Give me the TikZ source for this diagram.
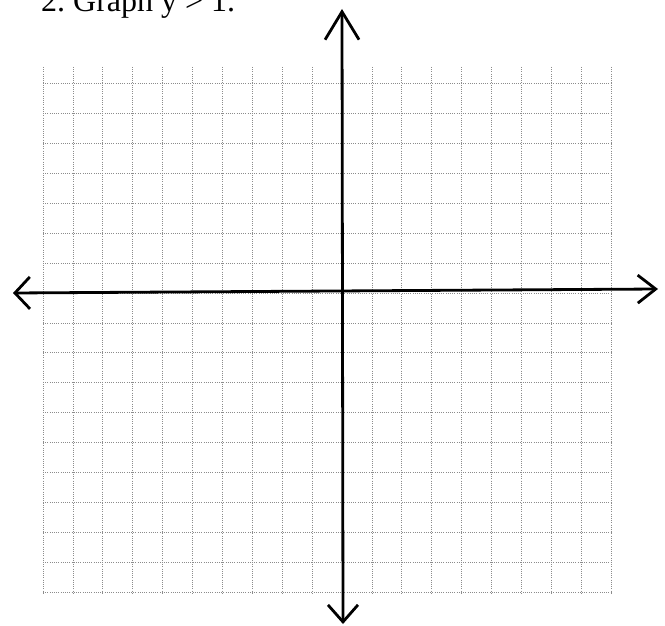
\documentclass[tikz,border=0pt]{standalone}
\usepackage{fontspec}
\setmainfont{Liberation Serif}
\usetikzlibrary{arrows.meta}
\tikzset{
  gridline/.style={black!45, line width=0.7pt, dash pattern=on 0.9pt off 1.3pt},
  axisline/.style={line width=2.8pt, line cap=round, line join=round},
}
\begin{document}
\begin{tikzpicture}[x=1pt,y=-1pt]
  \useasboundingbox (0,0) rectangle (665,626);
  % draw vertical grid lines
  \foreach \i in {0,...,19}
    \draw[gridline] (43+29.9*\i,67) -- (43+29.9*\i,593);
  % draw horizontal grid lines
  \foreach \j in {0,...,17}
    \draw[gridline] (43,592-29.9*\j) -- (611,592-29.9*\j);
  % title, cut off at the top
  \node[anchor=base west, inner sep=0pt, font=\fontsize{32}{38}\selectfont] (title) at (41,12) {2.\ Graph y > 1.};
  % ends of the axes
  \coordinate (xleft) at (13,293);
  \coordinate (xright) at (658,289);
  \coordinate (ytop) at (342,9);
  \coordinate (ybottom) at (343,624);
  % draw horizontal axis
  \draw[axisline, {Straight Barb[length=15pt,width=32pt]}-{Straight Barb[length=18pt,width=28pt]}] (xleft) -- (xright);
  % draw vertical axis
  \draw[axisline, {Straight Barb[length=28pt,width=34pt]}-{Straight Barb[length=17pt,width=30pt]}] (ytop) -- (ybottom);
\end{tikzpicture}
\end{document}
